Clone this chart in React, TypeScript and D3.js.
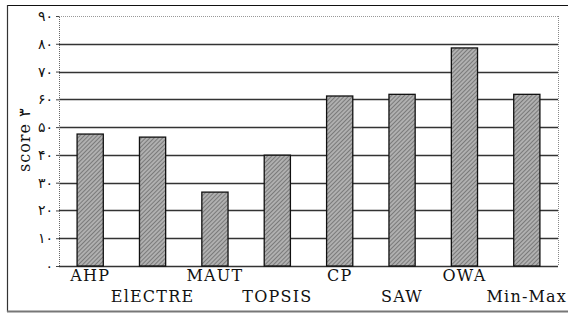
import React, { useEffect, useRef } from 'react';
import * as d3 from 'd3';

const categories = ['AHP', 'ElECTRE', 'MAUT', 'TOPSIS', 'CP', 'SAW', 'OWA', 'Min-Max'];
const scores = [47.5, 46.4, 26.6, 39.9, 61.2, 61.8, 78.5, 61.8];
const yTicks = [0, 10, 20, 30, 40, 50, 60, 70, 80, 90];
const persianDigits = ['۰', '۱', '۲', '۳', '۴', '۵', '۶', '۷', '۸', '۹'];
const yTitle = 'score ۳';

const toPersian = (n: number) =>
  String(n).split('').map(c => persianDigits[+c] ?? c).join('');

const App = () => {
  const svgRef = useRef<SVGSVGElement>(null);
  const width = 568;
  const height = 313;
  const margin = { top: 16, right: 10, bottom: 47, left: 59 };

  useEffect(() => {
    const svg = d3.select(svgRef.current);
    svg.selectAll('*').remove();

    // patrón rayado de las barras
    const pat = svg.append('defs').append('pattern')
      .attr('id', 'hatch')
      .attr('patternUnits', 'userSpaceOnUse')
      .attr('width', 3)
      .attr('height', 3)
      .attr('patternTransform', 'rotate(45)');
    pat.append('rect').attr('width', 3).attr('height', 3).attr('fill', '#b0b0b0');
    pat.append('line')
      .attr('x1', 0).attr('y1', 0).attr('x2', 0).attr('y2', 3)
      .attr('stroke', '#555').attr('stroke-width', 1.2);

    // marco exterior
    svg.append('line').attr('x1', 7).attr('y1', 5.5).attr('x2', width).attr('y2', 5.5)
      .attr('stroke', '#111').attr('stroke-width', 1.2);
    svg.append('line').attr('x1', 7.5).attr('y1', 5).attr('x2', 7.5).attr('y2', 312)
      .attr('stroke', '#333').attr('stroke-width', 1.2);
    svg.append('line').attr('x1', 7).attr('y1', 311.5).attr('x2', width).attr('y2', 311.5)
      .attr('stroke', '#777').attr('stroke-width', 2);

    const innerWidth = width - margin.left - margin.right;
    const innerHeight = height - margin.top - margin.bottom;

    const g = svg.append('g')
      .attr('transform', `translate(${margin.left},${margin.top})`);

    const x = d3.scaleBand()
      .domain(categories)
      .range([0, innerWidth])
      .paddingInner(0.58)
      .paddingOuter(0.29);

    const y = d3.scaleLinear()
      .domain([0, 90])
      .range([innerHeight, 0]);

    // líneas de cuadrícula
    g.selectAll('.grid')
      .data(yTicks)
      .enter()
      .append('line')
      .attr('x1', 0)
      .attr('x2', innerWidth)
      .attr('y1', d => Math.round(y(d)) + 0.5)
      .attr('y2', d => Math.round(y(d)) + 0.5)
      .attr('stroke', d => (d === 90 ? '#999' : '#333'))
      .attr('stroke-width', d => (d === 90 ? 1 : 1.6))
      .attr('stroke-dasharray', d => (d === 90 ? '1,1' : null));

    // borde derecho y eje izquierdo punteados
    g.append('line')
      .attr('x1', innerWidth + 0.5).attr('x2', innerWidth + 0.5)
      .attr('y1', 0).attr('y2', innerHeight)
      .attr('stroke', '#888').attr('stroke-dasharray', '1,1');

    const yAxis = d3.axisLeft(y)
      .tickValues(yTicks)
      .tickSize(3)
      .tickPadding(3)
      .tickFormat(d => toPersian(d as number));

    g.append('g')
      .call(yAxis)
      .call(ax => {
        ax.select('.domain').attr('stroke', '#666').attr('stroke-dasharray', '1,1');
        ax.selectAll('.tick line').attr('stroke', '#444');
        ax.selectAll('.tick text')
          .attr('font-family', 'DejaVu Sans')
          .attr('font-size', 14)
          .attr('fill', '#111');
      });

    // barras
    g.selectAll('.bar')
      .data(scores)
      .enter()
      .append('rect')
      .attr('x', (d, i) => x(categories[i])!)
      .attr('y', d => y(d))
      .attr('width', x.bandwidth())
      .attr('height', d => innerHeight - y(d))
      .attr('fill', 'url(#hatch)')
      .attr('stroke', '#111')
      .attr('stroke-width', 1.3);

    // etiquetas del eje x, escalonadas
    g.selectAll('.xlabel')
      .data(categories)
      .enter()
      .append('text')
      .attr('x', d => x(d)! + x.bandwidth() / 2)
      .attr('y', (d, i) => innerHeight + (i % 2 === 0 ? 15 : 36))
      .attr('text-anchor', 'middle')
      .attr('font-family', 'DejaVu Serif')
      .attr('font-size', 16)
      .attr('letter-spacing', 1.2)
      .attr('fill', '#111')
      .text(d => d);

    // título del eje y
    svg.append('text')
      .attr('transform', `translate(30,140) rotate(-90)`)
      .attr('text-anchor', 'middle')
      .attr('font-family', 'DejaVu Serif')
      .attr('font-size', 16)
      .attr('letter-spacing', 1)
      .attr('fill', '#111')
      .text(yTitle);
  }, []);

  return (
    <svg
      ref={svgRef}
      width={width}
      height={height}
      style={{ position: 'absolute', left: 0, top: 0, background: '#fff' }}
    />
  );
};

export default App;
